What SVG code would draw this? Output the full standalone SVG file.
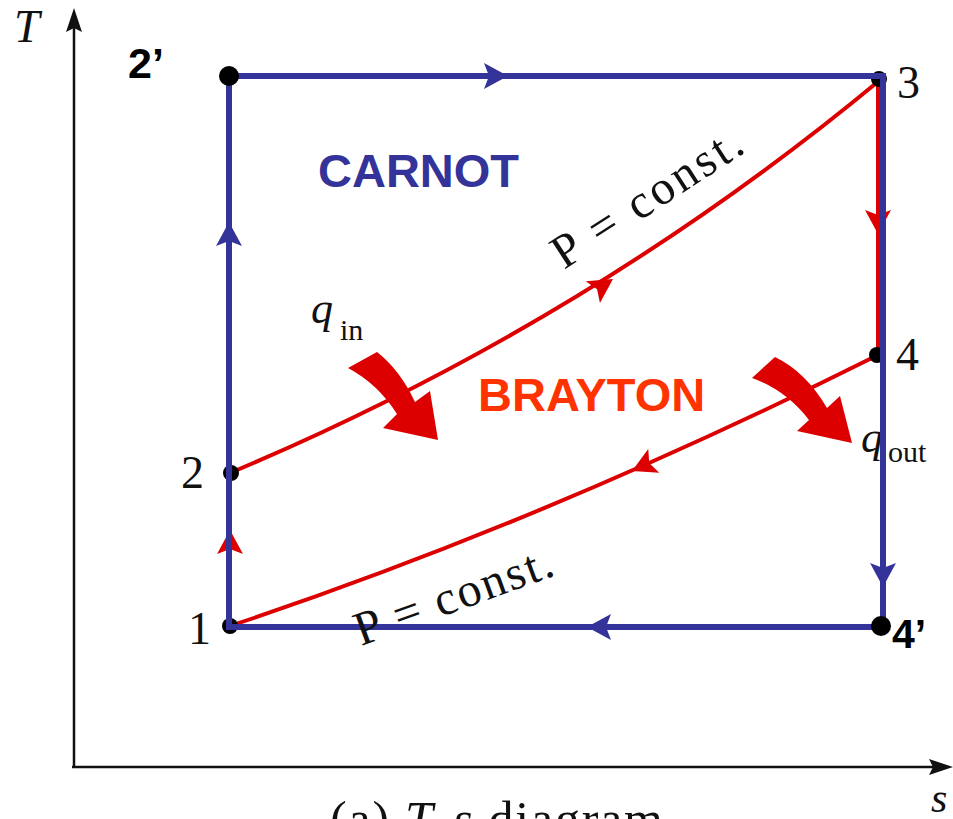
<svg xmlns="http://www.w3.org/2000/svg" xmlns:xlink="http://www.w3.org/1999/xlink" width="953" height="819" viewBox="0 0 953 819">
<style>
.serif{font-family:"Liberation Serif","Times New Roman",serif;fill:#111}
.ital{font-style:italic}
.bold{font-family:"Liberation Sans",Arial,sans-serif;font-weight:bold}
.blue{stroke:#333399;stroke-width:6;fill:none}
.red{stroke:#dd0000;stroke-width:4;fill:none}
.axis{stroke:#111;stroke-width:2.5;fill:none}
.bfill{fill:#333399}
.rfill{fill:#dd0000}
</style>
<defs>
<path id="ah" d="M0,0 L-24,-13 L-19,0 L-24,13 Z"/>
<path id="ahs" d="M0,0 L-24,-8 L-20,0 L-24,8 Z"/>
</defs>
<rect width="953" height="819" fill="#fff"/>
<g id="axes">
<line class="axis" x1="74" y1="767" x2="74" y2="26"/>
<use href="#ahs" transform="translate(74,8) rotate(-90)" fill="#111"/>
<line class="axis" x1="72" y1="767" x2="935" y2="767"/>
<use href="#ahs" transform="translate(953,767)" fill="#111"/>
<text class="serif ital" x="14" y="42" font-size="46">T</text>
<text class="serif ital" x="931" y="812" font-size="42">s</text>
<text class="serif" x="330" y="836" font-size="50" textLength="333" lengthAdjust="spacing"><tspan>(a) </tspan><tspan class="ital">T</tspan><tspan>-</tspan><tspan class="ital">s</tspan><tspan> diagram</tspan></text>
</g>
<g id="connectors">
<g id="brayton-lines">
<path class="red" d="M230,473 Q587,323 880,80"/>
<path class="red" d="M878,355 Q548,520 230,626"/>
<line class="red" x1="878" y1="80" x2="878" y2="355"/>
<line class="red" x1="230" y1="626" x2="230" y2="473"/>
<use href="#ah" class="rfill" transform="translate(613,279) rotate(-33)"/>
<use href="#ah" class="rfill" transform="translate(632,471) rotate(155)"/>
<use href="#ah" class="rfill" transform="translate(878,234) rotate(90)"/>
<use href="#ah" class="rfill" transform="translate(230,530) rotate(-90)"/>
</g>
</g>
<g id="heat-in">
<path class="rfill" d="M348,368 Q378,384 397,414 L383,428 L438,440 L430,391 L415,402 Q400,370 377,352 Z"/>
<text class="serif ital" x="311" y="323" font-size="44">q</text>
<text class="serif" x="340" y="340" font-size="30">in</text>
</g>
<g id="heat-out">
<path class="rfill" d="M752,378 Q786,390 809,420 L797,431 L852,443 L840,396 L827,408 Q806,372 775,357 Z"/>
<text class="serif ital" x="861" y="452" font-size="44">q</text>
<text class="serif" x="888" y="462" font-size="30">out</text>
</g>
<g id="brayton-points">
<g id="p1"><circle cx="230" cy="626" r="8" fill="#000"/><text class="serif" x="188" y="644" font-size="46">1</text></g>
<g id="p2"><circle cx="231" cy="473" r="8" fill="#000"/><text class="serif" x="181" y="488" font-size="46">2</text></g>
<g id="p3"><circle cx="879" cy="79" r="8" fill="#000"/><text class="serif" x="897" y="98" font-size="46">3</text></g>
<g id="p4"><circle cx="877" cy="355" r="8" fill="#000"/><text class="serif" x="896" y="370" font-size="46">4</text></g>
</g>
<g id="carnot-lines">
<path class="blue" d="M229,76 L883,76 L883,627 L229,627 Z"/>
<use href="#ah" class="bfill" transform="translate(508,76)"/>
<use href="#ah" class="bfill" transform="translate(883,587) rotate(90)"/>
<use href="#ah" class="bfill" transform="translate(587,627) rotate(180)"/>
<use href="#ah" class="bfill" transform="translate(229,222) rotate(-90)"/>
</g>
<g id="p2prime"><circle cx="229" cy="76" r="10" fill="#000"/><text class="bold" x="128" y="78" font-size="43" fill="#000">2’</text></g>
<g id="p4prime"><circle cx="881" cy="626" r="10" fill="#000"/><text class="bold" x="892" y="648" font-size="41" fill="#000">4’</text></g>
<g id="labels">
<text class="bold" x="318" y="187" font-size="47" fill="#333399">CARNOT</text>
<text class="bold" x="478" y="411" font-size="47" fill="#ff3300">BRAYTON</text>
<text class="serif" transform="translate(564,270) rotate(-33)" font-size="48" textLength="218" lengthAdjust="spacing">P = const.</text>
<text class="serif" transform="translate(361,646) rotate(-20)" font-size="48" textLength="208" lengthAdjust="spacing">P = const.</text>
</g>
</svg>
